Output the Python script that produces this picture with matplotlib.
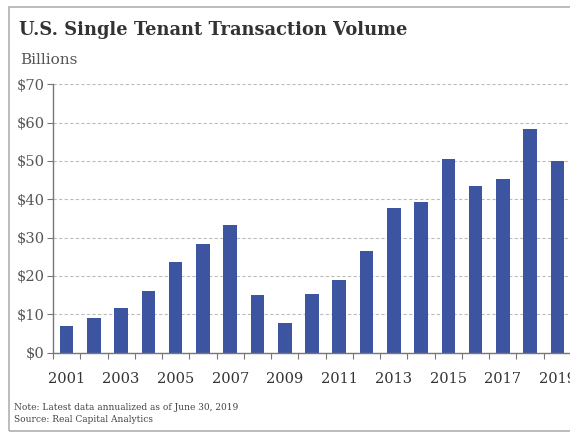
import numpy as np
import matplotlib
matplotlib.use("Agg")
import matplotlib.pyplot as plt
from matplotlib.patches import Rectangle

# Single tenant transaction volume, $ billions (2019 annualized)
years = list(range(2001, 2020))
volume = [6.8, 9.0, 11.5, 16.0, 23.5, 28.4, 33.3, 15.1, 7.8, 15.2,
          18.9, 26.4, 37.7, 39.4, 50.6, 43.4, 45.4, 58.3, 50.1]
y_ticks = [0, 10, 20, 30, 40, 50, 60, 70]
y_labels = ["$" + str(v) for v in y_ticks]

W, H = 570, 432
fig = plt.figure(figsize=(W / 100, H / 100), dpi=100)
plt.rcParams['font.family'] = ['DejaVu Serif']

# axes placed in pixel terms
left, right = 53, 571
bottom, top = 352.5, 84.3
ax = fig.add_axes([left / W, (H - bottom) / H, (right - left) / W, (bottom - top) / H])

x = np.arange(len(years))
ax.bar(x, volume, width=0.5, color="#3d55a0", zorder=3)

ax.set_xlim(-0.5, len(years) - 0.5)
ax.set_ylim(0, 70)
ax.set_yticks(y_ticks)
ax.set_yticklabels(y_labels, fontsize=10.5, color="#555555")
ax.set_xticks(x[::2])
ax.set_xticklabels([str(y) for y in years[::2]], fontsize=10.5, color="#333333")
ax.set_xticks(np.arange(len(years) + 1) - 0.5, minor=True)
ax.tick_params(axis="x", which="major", length=0, pad=14)
ax.tick_params(axis="x", which="minor", length=4, color="#777777", width=0.8)
ax.tick_params(axis="y", length=4, color="#777777", width=0.8, pad=2)

for s in ["top", "right"]:
    ax.spines[s].set_visible(False)
for s in ["left", "bottom"]:
    ax.spines[s].set_color("#777777")
    ax.spines[s].set_linewidth(1.0)
ax.spines["bottom"].set_zorder(4)

ax.yaxis.grid(True, linestyle=(0, (3, 2)), color="#bdbdbd", linewidth=0.8, zorder=0)

fig.text(19 / W, 1 - 30 / H, "U.S. Single Tenant Transaction Volume", fontsize=12.9,
         fontweight="bold", color="#333333", va="center", ha="left")
fig.text(20 / W, 1 - 60 / H, "Billions", fontsize=11, color="#555555", va="center", ha="left")
fig.text(14 / W, 1 - 407 / H, "Note: Latest data annualized as of June 30, 2019",
         fontsize=6.5, color="#444444", va="center", ha="left")
fig.text(14 / W, 1 - 420 / H, "Source: Real Capital Analytics",
         fontsize=6.5, color="#444444", va="center", ha="left")

# light frame around the chart (right side runs off the image)
fig.patches.append(Rectangle((9 / W, 1 - 431 / H), 1.0, (431 - 6.5) / H,
                             transform=fig.transFigure, fill=False,
                             edgecolor="#b0b0b0", linewidth=1.2))

fig.savefig("out.png", dpi=100)
